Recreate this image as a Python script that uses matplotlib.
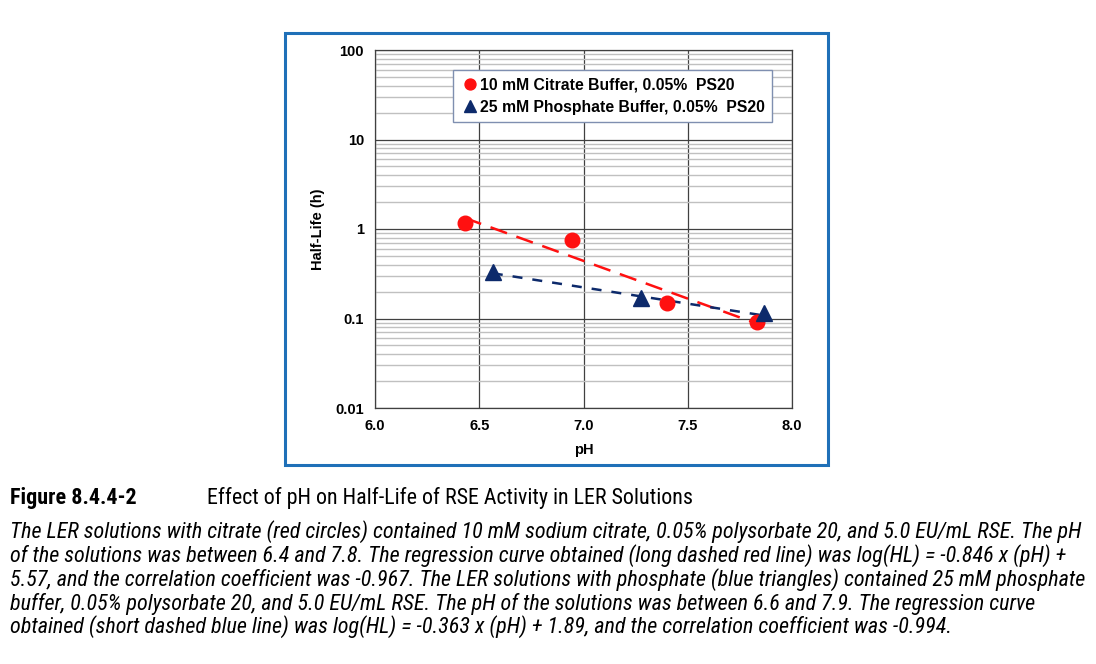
import numpy as np
import matplotlib
matplotlib.use("Agg")
from matplotlib import pyplot as plt
from matplotlib import font_manager
from matplotlib.patches import Rectangle
from matplotlib.ticker import FixedLocator, NullFormatter

# citrate buffer (red circles)
citrate_ph = [6.43, 6.945, 7.40, 7.83]
citrate_hl = [1.17, 0.75, 0.149, 0.091]
# phosphate buffer (blue triangles)
phosphate_ph = [6.565, 7.275, 7.865]
phosphate_hl = [0.33, 0.168, 0.114]
# trendline end points
citrate_fit_ph = [6.43, 7.83]
citrate_fit_hl = [1.33, 0.088]
phosphate_fit_ph = [6.565, 7.865]
phosphate_fit_hl = [0.32, 0.108]

x_ticks = [6.0, 6.5, 7.0, 7.5, 8.0]
y_ticks = [0.01, 0.1, 1, 10, 100]
y_labels = ["0.01", "0.1", "1", "10", "100"]

legend_labels = ["10 mM Citrate Buffer, 0.05%  PS20",
                 "25 mM Phosphate Buffer, 0.05%  PS20"]

fig_title = "Figure 8.4.4-2"
fig_subtitle = "Effect of pH on Half-Life of RSE Activity in LER Solutions"
caption_lines = [
    "The LER solutions with citrate (red circles) contained 10 mM sodium citrate, 0.05% polysorbate 20, and 5.0 EU/mL RSE. The pH",
    "of the solutions was between 6.4 and 7.8. The regression curve obtained (long dashed red line) was log(HL) = -0.846 x (pH) +",
    "5.57, and the correlation coefficient was -0.967. The LER solutions with phosphate (blue triangles) contained 25 mM phosphate",
    "buffer, 0.05% polysorbate 20, and 5.0 EU/mL RSE. The pH of the solutions was between 6.6 and 7.9. The regression curve",
    "obtained (short dashed blue line) was log(HL) = -0.363 x (pH) + 1.89, and the correlation coefficient was -0.994.",
]

plt.rcParams['font.family'] = ['Liberation Sans', 'DejaVu Sans']

# a narrow face for the caption if one is installed
names = set(f.name for f in font_manager.fontManager.ttflist)
cap_font = ['Liberation Sans', 'DejaVu Sans']
for cand in ['Liberation Sans Narrow', 'DejaVu Sans Condensed', 'Roboto Condensed',
             'Open Sans Condensed', 'Noto Sans Condensed']:
    if cand in names:
        cap_font = [cand] + cap_font
        break

fig = plt.figure(figsize=(10.96, 6.64), dpi=100)
W, H = 1096, 664

# blue frame around the chart
fig.patches.append(Rectangle((285 / W, 1 - 465 / H), 543 / W, 432 / H,
                             transform=fig.transFigure, fill=False,
                             edgecolor='#1f70b8', linewidth=2.2))

ax = fig.add_axes([375 / W, 1 - 408 / H, 417 / W, 358 / H])
ax.set_yscale('log')
ax.set_xlim(6.0, 8.0)
ax.set_ylim(0.01, 100)

# grid: light minor lines, dark major lines
minor = [m * 10.0 ** e for e in range(-2, 2) for m in range(2, 10)]
ax.yaxis.set_minor_locator(FixedLocator(minor))
ax.yaxis.set_minor_formatter(NullFormatter())
ax.yaxis.set_major_locator(FixedLocator(y_ticks))
ax.set_yticklabels(y_labels)
ax.set_xticks(x_ticks)
ax.set_xticklabels(["%.1f" % v for v in x_ticks])
ax.grid(which='minor', axis='y', color='#c0c0c0', linewidth=1.0)
ax.grid(which='major', axis='both', color='#404040', linewidth=0.9)
ax.set_axisbelow(True)
ax.tick_params(axis='y', which='both', length=0, pad=8)
ax.tick_params(axis='x', which='both', length=0, pad=8)
for lab in ax.get_xticklabels() + ax.get_yticklabels():
    lab.set_fontweight('bold')
    lab.set_fontsize(10.5)
for s in ax.spines.values():
    s.set_color('#404040')
    s.set_linewidth(0.9)

ax.plot(citrate_fit_ph, citrate_fit_hl, color='#ff1010', linestyle=(0, (7, 4)),
        linewidth=1.8, zorder=2)
ax.plot(phosphate_fit_ph, phosphate_fit_hl, color='#0d2a6b', linestyle=(0, (4, 4)),
        linewidth=1.8, zorder=2)
ax.plot(citrate_ph, citrate_hl, 'o', color='#ff1010', markersize=10.5,
        linestyle='none', label=legend_labels[0], zorder=3)
ax.plot(phosphate_ph, phosphate_hl, '^', color='#0d2a6b', markersize=11.5,
        linestyle='none', label=legend_labels[1], zorder=3)

ax.set_xlabel("pH", fontweight='bold', fontsize=10.5)
ax.xaxis.set_label_coords(0.5, -(443 - 408) / 358)
ax.set_ylabel("Half-Life (h)", fontweight='bold', fontsize=10.5)
ax.yaxis.set_label_coords(-(375 - 325) / 417, 0.5)

leg = ax.legend(loc='upper left', bbox_to_anchor=(78 / 417, 1 - 20 / 358),
                prop={'weight': 'bold', 'size': 11.3},
                frameon=True, fancybox=False, handletextpad=0.0,
                handlelength=1.3, borderpad=0.45, labelspacing=0.5,
                borderaxespad=0, markerscale=0.75)
leg.get_frame().set_edgecolor('#7f8fb0')
leg.get_frame().set_linewidth(1.0)
leg.get_frame().set_alpha(1)

# caption
title = fig.text(10 / W, 1 - 498 / H, fig_title, fontsize=13.5, fontweight='bold',
                 family=cap_font, va='center', ha='left')
sub = fig.text(207 / W, 1 - 498 / H, fig_subtitle, fontsize=13.5,
               family=cap_font, va='center', ha='left')
line_y = [532, 556, 580, 604, 627]
texts = []
for txt, yy in zip(caption_lines, line_y):
    texts.append(fig.text(10 / W, 1 - yy / H, txt, fontsize=13.5, style='italic',
                          family=cap_font, va='center', ha='left'))

# size the caption texts to the widths seen in the reference
renderer = fig.canvas.get_renderer()
wid = texts[0].get_window_extent(renderer).width
size = 13.5 * (1075 / wid)
for t in texts:
    t.set_fontsize(size)
wid = sub.get_window_extent(renderer).width
sub.set_fontsize(13.5 * 485 / wid)
title.set_fontsize(sub.get_fontsize())

fig.savefig("out.png", dpi=100)
